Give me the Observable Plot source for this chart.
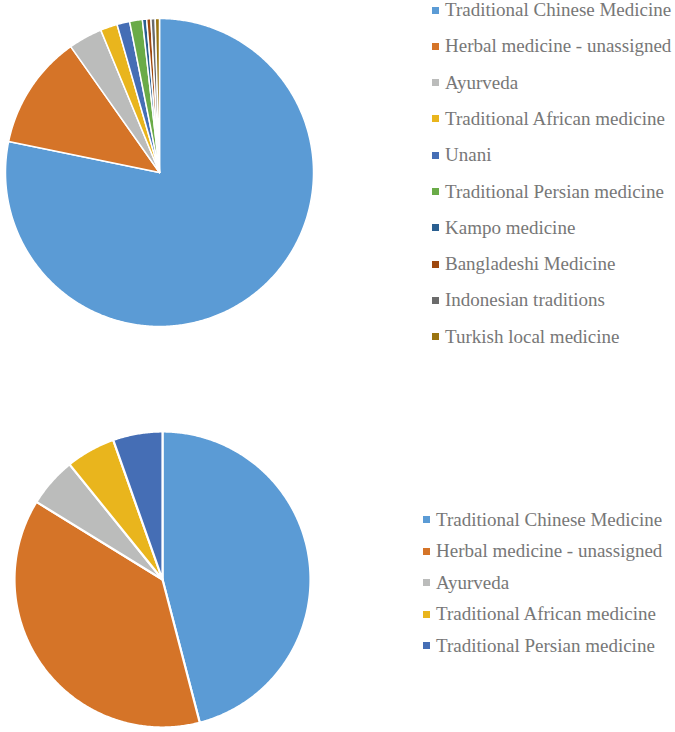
<!DOCTYPE html>
<html>
<head>
<meta charset="utf-8">
<script src="https://cdn.jsdelivr.net/npm/d3@7"></script>
<script src="https://cdn.jsdelivr.net/npm/@observablehq/plot@0.6"></script>
<style>
  html, body { margin: 0; padding: 0; background: #fff; }
  #root { position: relative; width: 675px; height: 732px; overflow: hidden; }
  .plot { position: absolute; }
  .legend { position: absolute; font-family: "Liberation Serif", "Times New Roman", serif; font-size: 19px; color: #777777; white-space: nowrap; }
  .legend .row { position: absolute; left: 0; height: 20px; line-height: 20px; display: flex; align-items: center; }
  .legend .sw { width: 7px; height: 7px; margin-right: 6px; flex: none; }
</style>
</head>
<body>
<div id="root"></div>
<script>
// ---- Data ----
const topCategories = [
  "Traditional Chinese Medicine",
  "Herbal medicine - unassigned",
  "Ayurveda",
  "Traditional African medicine",
  "Unani",
  "Traditional Persian medicine",
  "Kampo medicine",
  "Bangladeshi Medicine",
  "Indonesian traditions",
  "Turkish local medicine"
];
const topValues = [176, 27, 8, 4, 3, 3, 1, 1, 1, 1];
const topColors = ["#5b9bd5", "#d57428", "#bbbcbb", "#e9b51d", "#456eb5", "#6aab48", "#2a5f90", "#9e480e", "#6b6b6b", "#9a7410"];

const bottomCategories = [
  "Traditional Chinese Medicine",
  "Herbal medicine - unassigned",
  "Ayurveda",
  "Traditional African medicine",
  "Traditional Persian medicine"
];
const bottomValues = [17, 14, 2, 2, 2];
const bottomColors = ["#5b9bd5", "#d57428", "#bbbcbb", "#e9b51d", "#456eb5"];

// ---- Helpers ----
function slicePolygons(cats, vals) {
  const arcs = d3.pie().sort(null).value(d => d.v)(cats.map((c, i) => ({name: c, v: vals[i]})));
  const pts = [];
  for (const a of arcs) {
    const name = a.data.name;
    pts.push({name, x: 0, y: 0});
    const step = Math.PI / 360;
    const n = Math.max(2, Math.ceil((a.endAngle - a.startAngle) / step));
    for (let k = 0; k <= n; k++) {
      const t = a.startAngle + (a.endAngle - a.startAngle) * k / n;
      pts.push({name, x: Math.sin(t), y: Math.cos(t)});
    }
  }
  return pts;
}

function pie(cats, vals, colors, opts) {
  return Plot.plot({
    width: opts.width,
    height: opts.height,
    marginLeft: opts.ml, marginRight: opts.mr, marginTop: opts.mt, marginBottom: opts.mb,
    x: {domain: [-1, 1], axis: null},
    y: {domain: [-1, 1], axis: null},
    color: {domain: cats, range: colors},
    marks: [
      Plot.line(slicePolygons(cats, vals), {
        x: "x", y: "y", z: "name", fill: "name",
        stroke: "white", strokeWidth: opts.sw, strokeLinejoin: "round",
        curve: "linear-closed"
      })
    ]
  });
}

function legend(cats, colors, left, top0, gap) {
  const div = document.createElement("div");
  div.className = "legend";
  div.style.left = left + "px";
  div.style.top = "0px";
  cats.forEach((c, i) => {
    const row = document.createElement("div");
    row.className = "row";
    row.style.top = (top0 + gap * i - 10) + "px";
    const sw = document.createElement("span");
    sw.className = "sw";
    sw.style.background = colors[i];
    const tx = document.createElement("span");
    tx.textContent = c;
    row.appendChild(sw); row.appendChild(tx);
    div.appendChild(row);
  });
  return div;
}

const root = document.getElementById("root");

// Top pie: centre (159,172), radius 154
const p1 = pie(topCategories, topValues, topColors, {width: 330, height: 340, ml: 5, mr: 17, mt: 18, mb: 14, sw: 1.5});
p1.classList.add("plot");
p1.style.left = "0px"; p1.style.top = "0px";
root.appendChild(p1);

// Bottom pie: centre (162,579), radius 148
const p2 = pie(bottomCategories, bottomValues, bottomColors, {width: 330, height: 312, ml: 14, mr: 20, mt: 11, mb: 5, sw: 2.2});
p2.classList.add("plot");
p2.style.left = "0px"; p2.style.top = "420px";
root.appendChild(p2);

root.appendChild(legend(topCategories, topColors, 432, 10, 36.3));
root.appendChild(legend(bottomCategories, bottomColors, 423, 519.5, 31.6));
</script>
</body>
</html>
